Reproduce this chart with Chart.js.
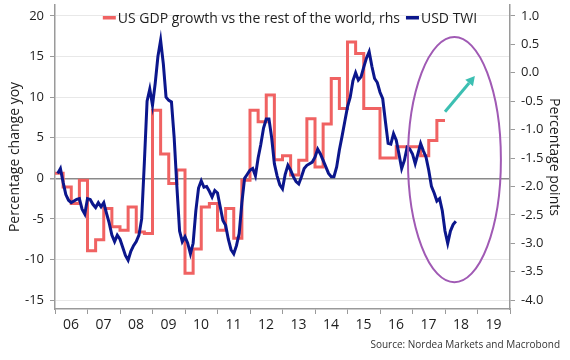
<!DOCTYPE html>
<html>
<head>
<meta charset="utf-8">
<title>USD TWI vs US growth gap</title>
<script src="https://cdn.jsdelivr.net/npm/chart.js@4.4.1/dist/chart.umd.min.js"></script>
<style>
  html, body { margin: 0; padding: 0; background: #fff; }
  #wrap { width: 570px; height: 360px; }
</style>
</head>
<body>
<div id="wrap"><canvas id="usdChart" width="570" height="360"></canvas></div>
<script>
// x axis: one label per year, drawn between the year ticks
const yearLabels = ["06", "07", "08", "09", "10", "11", "12", "13", "14", "15", "16", "17", "18", "19"];
const firstYear = 2006;
const lastYear = 2020;

// tick values, left axis (% y/y) and right axis (percentage points)
const lhsTicks = [20, 15, 10, 5, 0, -5, -10, -15];
const rhsTicks = [1.0, 0.5, 0.0, -0.5, -1.0, -1.5, -2.0, -2.5, -3.0, -3.5, -4.0];

// USD TWI, % change y/y, monthly from Feb 2006
const twiStart = 2006 + 1 / 12;
const twiValues = [
  0.6, 1.2, -0.5, -2.0, -2.7, -3.0, -2.8, -2.6, -2.5, -3.8, -4.4,
  -2.5, -2.6, -3.2, -3.6, -3.0, -3.5, -3.0, -4.3, -5.5, -7.0, -7.8, -7.0,
  -7.5, -8.5, -9.5, -10.1, -9.0, -8.3, -7.8, -7.0, -5.0, 2.0, 9.5, 11.0,
  9.0, 11.7, 15.0, 17.0, 14.1, 10.0, 9.6, 9.4, 5.0, -1.0, -6.5, -7.8,
  -7.2, -8.0, -9.3, -8.0, -4.0, -1.2, -0.3, -1.1, -1.0, -1.6, -2.3, -1.5,
  -1.8, -3.5, -5.2, -5.8, -7.5, -8.8, -9.3, -8.3, -6.8, -3.0, 0.0, 0.5,
  1.0, 1.2, 0.3, 2.5, 4.2, 6.2, 7.3, 7.3, 5.0, 1.8, 0.3, -0.8,
  -1.3, 0.5, 1.6, 1.0, 0.2, -0.4, -0.7, 0.2, 1.2, 1.6, 1.8, 2.0,
  2.6, 3.6, 3.0, 2.2, 1.4, 0.6, 0.2, 0.2, 1.4, 3.5, 5.2, 7.0,
  8.8, 10.0, 12.0, 13.0, 12.1, 12.5, 13.7, 14.8, 15.6, 13.8, 12.3, 11.8,
  10.6, 9.8, 7.0, 4.3, 4.2, 5.5, 4.7, 3.0, 1.2, 2.2, 3.8, 3.6,
  3.0, 1.8, 3.0, 4.3, 3.4, 2.6, 1.0, -1.0, -1.8, -2.8, -2.5, -4.0,
  -6.5, -8.0, -6.5, -5.7, -5.3
];

// US GDP growth vs the rest of the world, pp, quarterly from 2006Q1 (rhs)
const gdpStart = 2006;
const gdpValues = [
  -1.77, -2.01, -2.30, -1.89,
  -3.13, -2.94, -2.39, -2.71,
  -2.77, -2.36, -2.80, -2.83,
  -0.66, -1.43, -1.95, -1.71,
  -3.53, -3.10, -2.36, -2.30,
  -2.77, -2.39, -2.91, -1.89,
  -0.66, -0.86, -0.39, -1.53,
  -1.46, -1.80, -1.54, -0.81,
  -1.66, -0.90, -0.10, -0.63,
  0.54, 0.34, -0.63, -0.63,
  -1.50, -1.50, -1.30, -1.30,
  -1.30, -1.46, -1.19, -0.84
];

// axis ranges (rhs = (lhs - 13) / 7)
const lhsMin = -16.1, lhsMax = 21.35;
const rhsMin = -4.157, rhsMax = 1.193;

// highlight ellipse and arrow, in years / lhs units
const focus = { x: 2018.29, y: 2.3, rx: 1.43, ry: 15.1 };
const arrow = { x0: 2018.0, y0: 8.2, x1: 2018.92, y1: 12.6 };

const twiPoints = twiValues.map((v, i) => ({ x: twiStart + i / 12, y: v }));
const gdpPoints = gdpValues.map((v, i) => ({ x: gdpStart + i / 4, y: v }));
// close the last quarter so the step line runs to its end
gdpPoints.push({ x: gdpStart + gdpValues.length / 4, y: gdpValues[gdpValues.length - 1] });

Chart.defaults.font.family = "'Open Sans', sans-serif";
Chart.defaults.color = "#1e1e1e";

const axisGrey = "#9a9a9a";

const extras = {
  id: "extras",
  afterDatasetsDraw(chart) {
    const ctx = chart.ctx;
    const x = chart.scales.x;
    const y = chart.scales.y;
    ctx.save();

    // purple ellipse round the last year
    const cx = x.getPixelForValue(focus.x);
    const cy = y.getPixelForValue(focus.y);
    const rx = x.getPixelForValue(focus.x + focus.rx) - cx;
    const ry = cy - y.getPixelForValue(focus.y + focus.ry);
    ctx.beginPath();
    ctx.ellipse(cx, cy, rx, ry, 0, 0, Math.PI * 2);
    ctx.lineWidth = 2;
    ctx.strokeStyle = "#a05ab4";
    ctx.stroke();

    // teal arrow
    const x0 = x.getPixelForValue(arrow.x0), y0 = y.getPixelForValue(arrow.y0);
    const x1 = x.getPixelForValue(arrow.x1), y1 = y.getPixelForValue(arrow.y1);
    const ang = Math.atan2(y1 - y0, x1 - x0);
    const head = 9, half = 5;
    const bx = x1 - head * Math.cos(ang), by = y1 - head * Math.sin(ang);
    ctx.strokeStyle = "#3cbfb2";
    ctx.fillStyle = "#3cbfb2";
    ctx.lineWidth = 3;
    ctx.beginPath();
    ctx.moveTo(x0, y0);
    ctx.lineTo(bx, by);
    ctx.stroke();
    ctx.beginPath();
    ctx.moveTo(x1, y1);
    ctx.lineTo(bx + half * Math.sin(ang), by - half * Math.cos(ang));
    ctx.lineTo(bx - half * Math.sin(ang), by + half * Math.cos(ang));
    ctx.closePath();
    ctx.fill();
    ctx.restore();
  },
  afterDraw(chart) {
    const ctx = chart.ctx;
    ctx.save();

    // legend: red series first, then blue
    const items = [chart.data.datasets[1], chart.data.datasets[0]];
    ctx.font = "14px 'Open Sans'";
    ctx.textBaseline = "middle";
    ctx.textAlign = "left";
    const markW = 13, gap = 2, itemGap = 6;
    let total = itemGap * (items.length - 1);
    items.forEach(d => { total += markW + gap + ctx.measureText(d.label).width; });
    let lx = 290 - total / 2;
    const ly = 19;
    items.forEach(d => {
      ctx.fillStyle = d.borderColor;
      ctx.fillRect(lx, ly - 3, markW, 3.5);
      lx += markW + gap;
      ctx.fillStyle = "#1e1e1e";
      ctx.fillText(d.label, lx, ly);
      lx += ctx.measureText(d.label).width + itemGap;
    });

    // source line
    ctx.font = "10px 'Open Sans'";
    ctx.textAlign = "right";
    ctx.fillStyle = "#333";
    ctx.fillText("Source: Nordea Markets and Macrobond", 560, 345);
    ctx.restore();
  }
};

new Chart(document.getElementById("usdChart"), {
  type: "line",
  data: {
    datasets: [
      {
        label: "USD TWI",
        data: twiPoints,
        yAxisID: "y",
        borderColor: "#0b168c",
        borderWidth: 3,
        pointRadius: 0,
        tension: 0
      },
      {
        label: "US GDP growth vs the rest of the world, rhs",
        data: gdpPoints,
        yAxisID: "y1",
        borderColor: "#f06262",
        borderWidth: 3,
        pointRadius: 0,
        stepped: true
      }
    ]
  },
  options: {
    responsive: false,
    animation: false,
    devicePixelRatio: 1,
    layout: { padding: { top: 5, left: 0, right: 0, bottom: 0 } },
    plugins: {
      legend: { display: false },
      tooltip: { enabled: false }
    },
    scales: {
      x: {
        type: "linear",
        min: firstYear,
        max: lastYear,
        afterBuildTicks: (scale) => {
          const t = [];
          for (let yr = firstYear; yr <= lastYear; yr++) t.push({ value: yr });
          scale.ticks = t;
        },
        afterFit: (scale) => {
          scale.height = 51;
          scale.paddingLeft = 0;
          scale.paddingRight = 0;
        },
        ticks: {
          autoSkip: false,
          maxRotation: 0,
          padding: 3,
          labelOffset: 16,
          font: { size: 14 },
          callback: (v, i) => yearLabels[i] || ""
        },
        grid: { drawOnChartArea: false, tickLength: 5, tickColor: axisGrey },
        border: { color: axisGrey, width: 1.5 }
      },
      y: {
        position: "left",
        min: lhsMin,
        max: lhsMax,
        afterBuildTicks: (scale) => { scale.ticks = lhsTicks.map(v => ({ value: v })); },
        afterFit: (scale) => {
          scale.width = 55;
          scale.paddingTop = 0;
          scale.paddingBottom = 0;
        },
        ticks: {
          padding: 6,
          font: { size: 13 },
          callback: (v) => String(v)
        },
        grid: {
          tickLength: 5,
          tickColor: axisGrey,
          color: (c) => (c.tick && c.tick.value === 0 ? "#8a8a8a" : "#e8e8e8"),
          lineWidth: (c) => (c.tick && c.tick.value === 0 ? 1.5 : 1)
        },
        border: { color: axisGrey, width: 1.5 },
        title: {
          display: true,
          text: "Percentage change yoy",
          font: { size: 14 },
          padding: { top: 6.6, bottom: 0 }
        }
      },
      y1: {
        position: "right",
        min: rhsMin,
        max: rhsMax,
        afterBuildTicks: (scale) => { scale.ticks = rhsTicks.map(v => ({ value: v })); },
        afterFit: (scale) => {
          scale.width = 60;
          scale.paddingTop = 0;
          scale.paddingBottom = 0;
        },
        ticks: {
          padding: 6,
          crossAlign: "near",
          font: { size: 13 },
          callback: (v) => v.toFixed(1)
        },
        grid: { drawOnChartArea: false, tickLength: 5, tickColor: axisGrey },
        border: { color: axisGrey, width: 1.5 },
        title: {
          display: true,
          text: "Percentage points",
          font: { size: 14 },
          padding: { top: 8, bottom: 0 }
        }
      }
    }
  },
  plugins: [extras]
});
</script>
</body>
</html>
